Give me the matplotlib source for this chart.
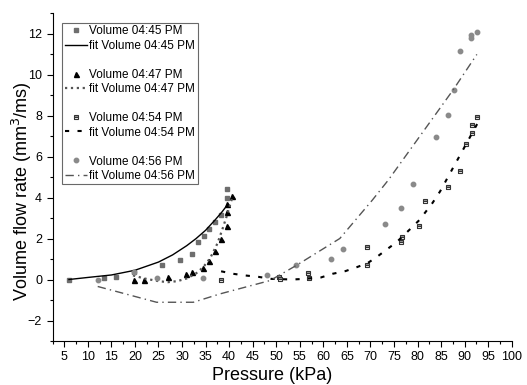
import matplotlib
matplotlib.use("Agg")
import matplotlib.pyplot as plt
from matplotlib.lines import Line2D
from matplotlib.ticker import MultipleLocator

plt.rcParams['font.family'] = ['Liberation Sans', 'DejaVu Sans']

# Volume 04:45 PM
p1 = [6.0, 13.4, 15.9, 19.7, 25.8, 29.6, 32.1, 33.3, 34.6, 35.8, 37.0, 38.3, 39.5, 39.5]
v1 = [0.0, 0.06, 0.13, 0.36, 0.70, 0.93, 1.23, 1.83, 2.14, 2.47, 2.81, 3.15, 4.0, 4.4]
fit_p1 = [6, 10, 15, 20, 25, 28, 31, 33, 35, 37, 38.5, 39.5]
fit_v1 = [0.0, 0.1, 0.22, 0.45, 0.85, 1.2, 1.65, 2.0, 2.4, 2.9, 3.3, 3.6]

# Volume 04:47 PM
p2 = [19.7, 22.0, 27.1, 30.8, 32.1, 34.5, 35.8, 37.0, 38.3, 39.5, 39.5, 39.5, 40.7]
v2 = [0.0, 0.0, 0.10, 0.26, 0.36, 0.56, 0.90, 1.39, 1.99, 2.61, 3.30, 3.67, 4.08]
fit_p2 = [19.6, 22, 25, 27, 29, 31, 33, 34.5, 36, 37.5, 38.5, 39.5, 40.8]
fit_v2 = [0.2, 0.05, -0.08, -0.13, -0.08, 0.05, 0.3, 0.6, 1.05, 1.75, 2.4, 3.1, 4.1]

# Volume 04:54 PM
p3 = [38.3, 50.6, 50.8, 56.8, 57.0, 69.2, 69.2, 76.6, 76.8, 80.4, 81.5, 86.5, 89.0, 90.3, 91.5, 91.5, 92.7]
v3 = [0.0, 0.11, 0.02, 0.31, 0.05, 1.58, 0.72, 1.85, 2.07, 2.61, 3.82, 4.52, 5.31, 6.62, 7.14, 7.53, 7.91]
fit_p3 = [38.3, 40.8, 43.3, 46.2, 49, 53.4, 56, 59.5, 62, 64.7, 67.1, 69.4, 71.3, 73.5, 75.6, 78.4, 80.4, 83.2, 84.8, 88, 89, 92.7]
fit_v3 = [0.4, 0.28, 0.2, 0.13, 0.03, 0.0, 0.03, 0.1, 0.28, 0.41, 0.6, 0.8, 1.09, 1.47, 1.83, 2.45, 2.9, 3.74, 4.3, 5.64, 6.05, 7.6]

# Volume 04:56 PM
p4 = [12.1, 19.7, 24.6, 34.5, 48.1, 54.3, 61.6, 64.1, 73.0, 76.6, 79.0, 84.0, 86.5, 87.8, 89.0, 91.4, 91.4, 92.7]
v4 = [0.0, 0.35, 0.05, 0.08, 0.23, 0.72, 0.98, 1.47, 2.73, 3.50, 4.64, 6.93, 8.04, 9.23, 11.14, 11.8, 11.91, 12.07]
fit_p4 = [12.1, 24.6, 32.4, 38.1, 48.7, 54.3, 63.5, 70.4, 73.8, 82, 87.6, 92.6]
fit_v4 = [-0.34, -1.11, -1.11, -0.7, -0.05, 0.69, 2.0, 3.87, 4.85, 7.47, 9.26, 10.98]

labels = ['Volume 04:45 PM', 'fit Volume 04:45 PM',
          'Volume 04:47 PM', 'fit Volume 04:47 PM',
          'Volume 04:54 PM', 'fit Volume 04:54 PM',
          'Volume 04:56 PM', 'fit Volume 04:56 PM']

fig = plt.figure(figsize=(5.27, 3.85), dpi=100)
ax = fig.add_axes([52.5 / 527, 44 / 385, (511.7 - 52.5) / 527, (341 - 13) / 385])

h1, = ax.plot(p1, v1, 's', ms=3, color='#6e6e6e', mec='#6e6e6e', linestyle='none')
f1, = ax.plot(fit_p1, fit_v1, '-', color='black', lw=1.0)
h2, = ax.plot(p2, v2, '^', ms=3.6, color='black', linestyle='none')
f2, = ax.plot(fit_p2, fit_v2, ':', color='#555555', lw=1.6)
h3, = ax.plot(p3, v3, 's', ms=3, mfc='white', mec='#333333', mew=0.8,
              fillstyle='bottom', markerfacecoloralt='#999999', linestyle='none')
f3, = ax.plot(fit_p3, fit_v3, '--', color='black', lw=1.5, dashes=(2, 4))
h4, = ax.plot(p4, v4, 'o', ms=3.2, color='#8a8a8a', linestyle='none')
f4, = ax.plot(fit_p4, fit_v4, '-.', color='#555555', lw=1.0, dashes=(6, 3, 1, 3))

blank = Line2D([], [], linestyle='none', marker='none')
handles = [h1, f1, blank, h2, f2, blank, h3, f3, blank, h4, f4]
leg_labels = [labels[0], labels[1], '', labels[2], labels[3], '',
              labels[4], labels[5], '', labels[6], labels[7]]
leg = ax.legend(handles, leg_labels, loc='upper left', bbox_to_anchor=(0.021, 0.97),
                fontsize=8.5, frameon=True, fancybox=False, edgecolor='#444444',
                handlelength=1.9, handletextpad=0.2, labelspacing=0.21,
                borderpad=0.2, borderaxespad=0)
leg.get_frame().set_linewidth(0.8)

ax.set_xlim(2.5, 100)
ax.set_ylim(-3, 13)
ax.xaxis.set_major_locator(MultipleLocator(5))
ax.xaxis.set_minor_locator(MultipleLocator(2.5))
ax.yaxis.set_major_locator(MultipleLocator(2))
ax.yaxis.set_minor_locator(MultipleLocator(1))
ax.tick_params(which='both', direction='out', labelsize=9, width=0.8)
ax.tick_params(which='major', length=4)
ax.tick_params(which='minor', length=2)
ax.spines['top'].set_visible(False)
ax.spines['right'].set_visible(False)
ax.set_xlabel('Pressure (kPa)', fontsize=13)
ax.set_ylabel('Volume flow rate (mm$^3$/ms)', fontsize=13)
ax.xaxis.set_label_coords(0.479, -0.078)
ax.yaxis.set_label_coords(-0.04, 0.456)

fig.savefig('out.png', dpi=100)
